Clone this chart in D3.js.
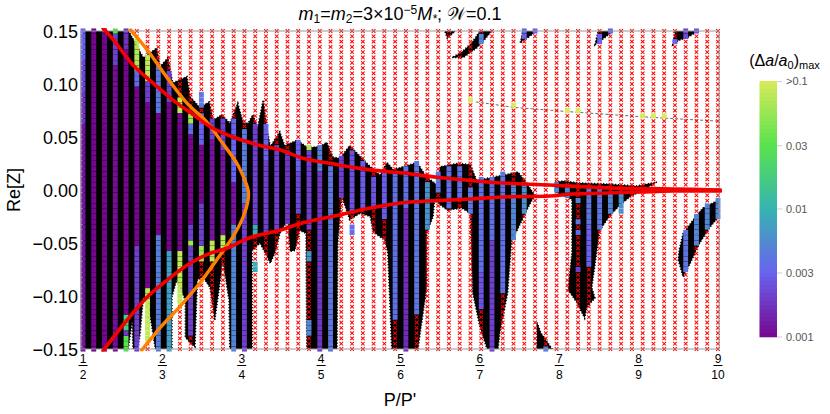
<!DOCTYPE html>
<html><head><meta charset="utf-8">
<style>html,body{margin:0;padding:0;background:#fff}svg{display:block}text{font-family:"Liberation Sans",Arial,sans-serif}</style>
<script src="https://cdn.jsdelivr.net/npm/d3@7"></script></head><body>
<svg id="c" width="830" height="414"></svg>
<script>
const ratioNum=[1,2,3,4,5,6,7,8,9];
const ratioDen=[2,3,4,5,6,7,8,9,10];
const yTicks=[0.15,0.10,0.05,0,-0.05,-0.10,-0.15];
const colorTicks=[0.001,0.003,0.01,0.03,0.1];
const colorTickLabels=["0.001","0.003","0.01","0.03",">0.1"];
const colorStops=["#76068f","#6a62ee","#36b4b2","#58e24e","#d6ea5a"];
// one entry per column of the integration grid: [top Re[Z], bottom Re[Z], (Δa/a0)max]; all other rows are unstable
const columnRuns=[
[[.15,.125,.003],[.12,.095,.0022],[.09,.065,.0018],[.06,-.15,.0012]],
[[.15,-.15,.001]],
[[.15,-.15,.001]],
[[.15,.15,.03],[.145,.12,.002],[.115,-.15,.0011]],
[[.15,.135,.0017],[.13,-.115,.001],[-.12,-.13,.018],[-.135,-.135,.0018],[-.14,-.15,.03]],
[[.14,.115,.07],[.11,.1,.0035],[.095,-.05,.001],[-.055,-.15,.002]],
[[.125,.105,.08],[.1,.085,.002],[.08,-.09,.001],[-.095,-.14,.08]],
[[.115,.075,.004],[.07,-.04,.001],[-.045,-.15,.0045]],
[[.11,.085,.002],[.08,-.055,.001],[-.06,-.15,.007]],
[[.085,.075,.08],[.07,-.055,.001],[-.06,-.105,.08]],
[[.07,.065,.06],[.06,.055,.0035],[.05,-.03,.001],[-.035,-.045,.002],[-.05,-.05,.06],[-.055,-.135,.002]],
[[.09,.08,.004],[.07,.045,.003],[.04,-.01,.001],[-.015,-.05,.002],[-.055,-.065,.06]],
[[.065,.05,.002],[.045,-.045,.0012],[-.05,-.065,.08]],
[[.065,.04,.002],[.035,-.04,.0012],[-.045,-.055,.08]],
[[.065,.01,.003],[.005,-.03,.0012],[-.035,-.15,.005]],
[[.055,-.01,.0045],[-.015,-.15,.002]],
[[.06,-.03,.002],[-.035,-.04,.009],[-.07,-.075,.009]],
[[.06,.03,.003],[.025,-.04,.002]],
[[.04,-.035,.002]],
[[.035,-.03,.0018]],
[[.045,.02,.003],[.015,-.02,.0022]],
[[.04,.04,.07],[.035,-.035,.002],[-.06,-.065,.006],[-.125,-.135,.005]],
[[.04,.02,.0045],[.015,-.15,.0018]],
[[.02,-.15,.004]],
[[.03,-.005,.002]],
[[.035,-.02,.0025],[-.035,-.04,.0035]],
[[.025,-.015,.0028]],
[[.01,-.015,.0025]],
[[.015,-.025,.0028]],
[[.015,-.12,.0037]],
[[.02,-.015,.0037],[-.02,-.15,.0016]],
[[.025,-.115,.004]],
[[.005,-.035,.006]],
[[.015,0,.004]],
[[.02,-.015,.0037]],
[[.02,-.005,.0037]],
[[.085,.085,.1],[0,-.02,.004]],
[[.145,.14,.005],[.01,-.075,.0037],[-.08,-.105,.0025],[-.11,-.11,.0025]],
[[.01,-.045,.0037],[-.05,-.15,.002]],
[[.015,-.095,.0037]],
[[.08,.08,.1],[.005,-.045,.005]],
[[.15,.145,.003],[.005,-.02,.006]],
[[.15,.15,.003]],
[[-.15,-.15,.004]],
[[.005,0,.005]],
[[.075,.075,.1],[0,-.005,.005]],
[[.075,.075,.1],[-.01,-.01,.005],[-.03,-.03,.004],[-.04,-.04,.0035],[-.075,-.075,.002]],
[[0,-.03,.004],[-.035,-.07,.003]],
[[.145,.14,.003],[0,-.035,.004]],
[[.15,.15,.003],[-.005,-.02,.005]],
[[-.005,-.02,.006]],
[],
[[.07,.07,.1]],
[[.07,.07,.1]],
[[.07,.07,.1]],
[[.14,.14,.003]],
[[.15,.145,.0022],[-.04,-.075,.004]],
[[.15,.15,.0025],[-.025,-.05,.005]],
[[-.015,-.035,.005]],
[[-.01,-.025,.005]]
];
// boundary of the black (stable orbit) regions: [position along resonance axis, Re[Z]]
const stableMain=[[0,.15],[.57,.15],[.59,.148],[.76,.125],[.93,.134],[.97,.116],[1.07,.125],[1.13,.101],[1.31,.107],[1.35,.088],[1.47,.078],[1.59,.083],[1.64,.066],[1.75,.071],[1.85,.063],[1.95,.082],[2.02,.063],[2.08,.063],[2.14,.071],[2.2,.059],[2.27,.085],[2.32,.057],[2.36,.041],[2.48,.055],[2.54,.042],[2.7,.047],[2.83,.04],[2.99,.041],[3.07,.045],[3.15,.031],[3.24,.03],[3.36,.042],[3.45,.035],[3.62,.022],[3.74,.014],[3.83,.026],[3.91,.019],[4.03,.022],[4.21,.026],[4.33,.012],[4.46,.005],[4.5,.022],[4.71,.025],[4.88,.024],[4.96,.009],[5.29,.014],[5.48,.017],[5.59,.0066],[5.69,-.005],[5.59,-.019],[5.47,-.038],[5.4,-.047],[5.35,-.097],[5.25,-.135],[5.23,-.15],[5.09,-.15],[5,-.129],[4.91,-.097],[4.88,-.022],[4.77,-.017],[4.59,-.019],[4.5,-.014],[4.43,-.009],[4.41,-.025],[4.33,-.041],[4.33,-.092],[4.22,-.15],[3.89,-.15],[3.84,-.059],[3.8,-.047],[3.7,-.042],[3.65,-.038],[3.62,-.025],[3.49,-.022],[3.36,-.028],[3.26,-.006],[3.21,-.05],[3.2,-.15],[2.82,-.15],[2.81,-.041],[2.73,-.038],[2.67,-.057],[2.61,-.058],[2.58,-.028],[2.48,-.041],[2.42,-.059],[2.36,-.069],[2.23,-.05],[2.13,-.057],[2.13,-.15],[1.85,-.15],[1.84,-.104],[1.76,-.066],[1.73,-.085],[1.66,-.123],[1.6,-.092],[1.51,-.082],[1.44,-.085],[1.41,-.148],[1.35,-.144],[1.29,-.139],[1.29,-.104],[1.18,-.085],[1.12,-.101],[1.12,-.15],[.91,-.15],[.88,-.135],[.82,-.107],[.76,-.101],[.72,-.135],[.69,-.15],[.63,-.15],[.62,-.123],[.57,-.15],[0,-.15]];
const stableLobe=[[5.95,.0075],[6.05,.0085],[6.26,.0066],[6.6,.0057],[6.98,.0038],[7.23,.0075],[7.1,.002],[6.89,-.0066],[6.77,-.014],[6.64,-.024],[6.51,-.038],[6.41,-.092],[6.45,-.102],[6.35,-.11],[6.32,-.121],[6.22,-.106],[6.11,-.094],[6.16,-.059],[6.16,-.009],[6.07,-.006],[5.95,-.002]];
const stableArc=[[7.5,-.066],[7.56,-.082],[7.65,-.069],[7.77,-.05],[7.9,-.035],[8.02,-.024],[8.02,-.009],[7.94,-.012],[7.81,-.017],[7.71,-.026],[7.56,-.041],[7.51,-.057]];
const stableFoot=[[5.72,-.125],[5.77,-.135],[5.91,-.15],[5.72,-.15]];
const stableTopA=[[4.56,.15],[4.69,.15],[4.59,.143]];
const stableTopB=[[4.65,.125],[4.79,.125],[4.96,.134],[5.06,.142],[5.15,.15],[5,.15],[4.9,.139],[4.77,.13]];
const stableTopC=[[5.51,.139],[5.54,.15],[5.72,.15],[5.61,.144]];
const stableTopD=[[6.45,.137],[6.49,.15],[6.68,.15],[6.58,.144]];
const stableTopE=[[7.43,.137],[7.46,.15],[7.75,.15],[7.62,.144],[7.5,.141]];
const thinTrail=[[4.95,.083],[5.06,.082],[5.42,.078],[6.1,.074],[7.06,.069],[7.99,.065]];
const redUpper=[[.25,.153],[.4,.14],[.63,.118],[.88,.101],[1.13,.085],[1.39,.071],[1.64,.058],[1.89,.05],[2.23,.042],[2.48,.038],[2.77,.03],[3.2,.024],[3.62,.019],[4.03,.016],[4.46,.012],[4.88,.009],[5.29,.0066],[5.88,.0047],[6.6,.002],[7.43,.001],[8.03,0]];
const redLower=[[.25,-.152],[.53,-.125],[.81,-.101],[1.06,-.085],[1.31,-.071],[1.56,-.061],[1.81,-.055],[2.1,-.045],[2.48,-.038],[2.77,-.031],[3.2,-.024],[3.62,-.017],[4.03,-.012],[4.46,-.01],[4.88,-.0085],[5.29,-.0066],[5.88,-.0057],[6.17,-.0038],[6.6,-.0028],[7.02,-.0019],[7.43,-.001],[8.03,-.001]];
const orangeCurve=[[.6,.151],[.81,.132],[1.06,.106],[1.31,.082],[1.56,.064],[1.76,.044],[1.94,.025],[2.04,.009],[2.08,0],[2.08,-.009],[2.02,-.025],[1.89,-.044],[1.73,-.061],[1.47,-.088],[1.22,-.11],[.97,-.13],[.74,-.151]];

const svg=d3.select("#c");
const x=d3.scaleLinear().domain([0,8]).range([83,718]);
const y=d3.scaleLinear().domain([-0.15,0.15]).range([349,31]);
const color=d3.scaleLog().domain(colorTicks).range(colorStops).interpolate(d3.interpolateRgb);
const barY=d3.scaleLog().domain(colorTicks).range([337,273,209,145.7,81.6]);
const colX=i=>x(i*8/(columnRuns.length-1));
const rows=d3.range(61).map(k=>Math.round((-0.15+k*0.005)*1000)/1000);
const cells=[],crosses=[];
columnRuns.forEach((runs,i)=>rows.forEach(r=>{
  const run=runs.find(s=>r<=s[0]+1e-6&&r>=s[1]-1e-6);
  if(run)cells.push({i,r,v:run[2]});else crosses.push({i,r});
}));
const defs=svg.append("defs");
defs.append("clipPath").attr("id","pl").append("rect").attr("x",78).attr("y",28).attr("width",644).attr("height",323.5);
defs.append("clipPath").attr("id","fr").append("rect").attr("x",83).attr("y",31).attr("width",636).attr("height",318);
const poly=d3.line().x(d=>x(d[0])).y(d=>y(d[1]));
const plot=svg.append("g");
plot.append("g").attr("clip-path","url(#fr)").selectAll("path.st").data([stableMain,stableLobe,stableArc,stableFoot,stableTopA,stableTopB,stableTopC,stableTopD,stableTopE]).join("path")
  .attr("class","st").attr("d",d=>poly(d)+"Z").attr("fill","#000").attr("stroke","#000").attr("stroke-width",1.6).attr("stroke-dasharray","1.2 1.8");
plot.append("path").attr("d",poly(thinTrail)).attr("fill","none").attr("stroke","#444").attr("stroke-width",.8).attr("stroke-dasharray","3 2");
// frame
const frame=svg.append("g").attr("stroke","#999").attr("stroke-width",1).attr("fill","none");
frame.append("path").attr("d",`M${x(0)-2} ${y(.15)}H${x(8)+1}V${y(-.15)}H${x(0)-2}Z`);
plot.append("g").attr("stroke","#f00").attr("stroke-width",1.05).attr("fill","none")
  .selectAll("path").data(crosses).join("path")
  .attr("d",d=>{const cx=colX(d.i),cy=y(d.r),s=1.8;return `M${cx-s} ${cy-s}L${cx+s} ${cy+s}M${cx-s} ${cy+s}L${cx+s} ${cy-s}`;});
plot.append("g").selectAll("rect").data(cells).join("rect")
  .attr("x",d=>colX(d.i)-2.45).attr("y",d=>y(d.r)-2.55).attr("width",4.9).attr("height",5.1)
  .attr("fill",d=>color(d.v));
const curve=d3.line().x(d=>x(d[0])).y(d=>y(d[1])).curve(d3.curveCatmullRom.alpha(.5));
const lines=svg.append("g").attr("clip-path","url(#pl)").attr("fill","none").attr("stroke-linecap","round");
lines.append("path").attr("d",curve(orangeCurve)).attr("stroke","#ff8000").attr("stroke-width",3.4);
lines.append("path").attr("d",curve(redUpper)).attr("stroke","#f50000").attr("stroke-width",3.6);
lines.append("path").attr("d",curve(redLower)).attr("stroke","#f50000").attr("stroke-width",3.6);
// y axis
const yAxis=d3.axisLeft(y).tickValues(yTicks).tickSize(0).tickFormat(d=>d3.format(".2f")(d).replace("-","−"));
const gy=svg.append("g").attr("transform","translate(81,0)").call(yAxis);
gy.select(".domain").remove();
gy.selectAll("text").attr("font-size",18).attr("font-family",'"Liberation Sans"').attr("fill","#000").attr("x",-3).attr("dy","0.36em");
// x axis: fractions
const gx=svg.append("g");
const ft=gx.selectAll("g").data(ratioNum.map((n,i)=>({n,d:ratioDen[i],i}))).join("g").attr("transform",d=>`translate(${x(d.i)},0)`);
ft.append("text").attr("y",363).attr("text-anchor","middle").attr("font-size",12).text(d=>d.n);
ft.append("line").attr("x1",-4.5).attr("x2",4.5).attr("y1",365.5).attr("y2",365.5).attr("stroke","#000").attr("stroke-width",1);
ft.append("text").attr("y",379).attr("text-anchor","middle").attr("font-size",12).text(d=>d.d);
svg.append("text").attr("x",400).attr("y",406).attr("text-anchor","middle").attr("font-size",18).text("P/P'");
svg.append("text").attr("transform","translate(14,190) rotate(-90)").attr("text-anchor","middle").attr("font-size",18).attr("dy","0.35em").text("Re[Z]");
// title
const t=svg.append("text").attr("x",400).attr("y",19.5).attr("text-anchor","middle").attr("font-size",18);
const sp=(s,o={})=>{const e=t.append("tspan").text(s);if(o.it)e.attr("font-style","italic");if(o.sz)e.attr("font-size",o.sz);if(o.dy)e.attr("dy",o.dy);return e;};
sp("m",{it:1});sp("1",{sz:12,dy:3});sp("=",{dy:-3});sp("m",{it:1});sp("2",{sz:12,dy:3});sp("=3×10",{dy:-3});sp("−5",{sz:12,dy:-6});sp("M",{it:1,dy:6});sp("*",{it:1,sz:12,dy:3});sp("; ",{dy:-3});sp("𝒲",{});sp("=0.1");
// colour bar
const steps=d3.range(64);
const bar=svg.append("g");
bar.selectAll("rect").data(steps).join("rect").attr("x",759.5).attr("width",17.5)
  .attr("y",s=>337-(s+1)*4).attr("height",4.3)
  .attr("fill",s=>color(barY.invert(337-(s+.5)*4)));
const bt=bar.append("g").selectAll("g").data(colorTicks).join("g").attr("transform",d=>`translate(0,${barY(d)})`);
bt.append("line").attr("x1",777).attr("x2",782).attr("stroke","#ccc");
bt.append("text").data(colorTickLabels).attr("x",786).attr("dy","0.35em").attr("font-size",11).attr("fill","#555").text(d=>d);
const bl=svg.append("text").attr("x",784.5).attr("y",66).attr("text-anchor","middle").attr("font-size",16);
bl.append("tspan").text("(Δ");bl.append("tspan").attr("font-style","italic").text("a");bl.append("tspan").text("/");
bl.append("tspan").attr("font-style","italic").text("a");bl.append("tspan").attr("font-size",11).attr("dy",3).text("0");
bl.append("tspan").attr("dy",-3).text(")");bl.append("tspan").attr("font-size",11).attr("dy",3).text("max");
</script></body></html>
